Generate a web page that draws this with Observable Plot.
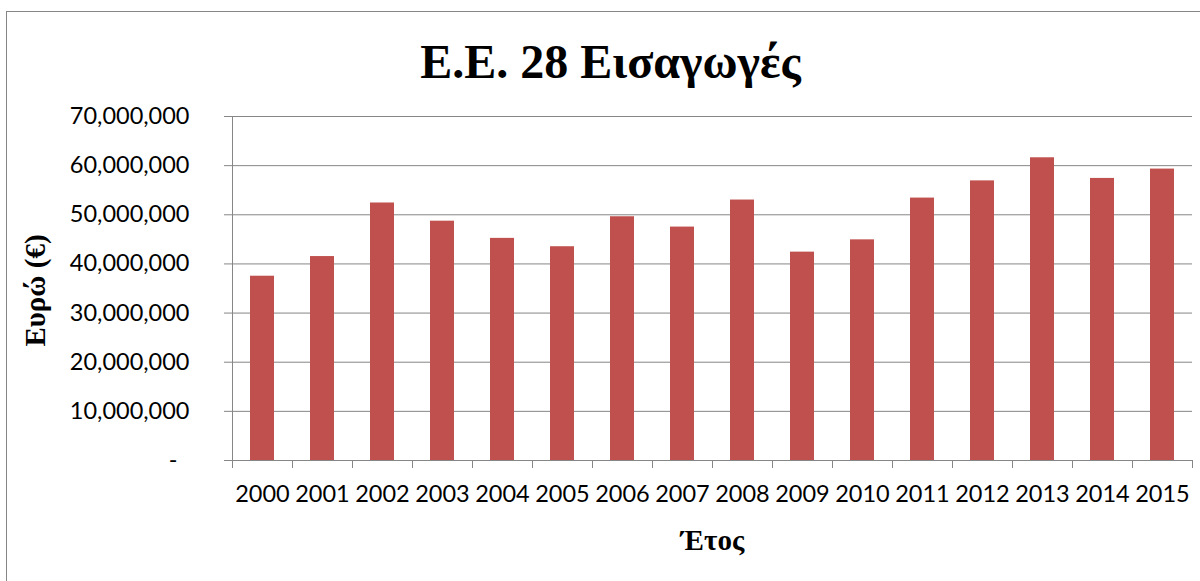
<!DOCTYPE html>
<html>
<head>
<meta charset="utf-8">
<script src="https://cdn.jsdelivr.net/npm/d3@7"></script>
<script src="https://cdn.jsdelivr.net/npm/@observablehq/plot@0.6"></script>
<style>
  html, body { margin: 0; padding: 0; background: #fff; }
  #wrap { position: relative; width: 1200px; height: 581px; overflow: hidden; background: #fff; }
  #frame { position: absolute; left: 6px; top: 11px; width: 1230px; height: 620px; border: 1.5px solid #868686; box-sizing: border-box; }
  #chart { position: absolute; left: 0; top: 0; }
</style>
</head>
<body>
<div id="wrap"><div id="frame"></div><div id="chart"></div></div>
<script>
const title = "E.E. 28 Εισαγωγές";
const yTitle = "Ευρώ (€)";
const xTitle = "Έτος";
const years = [2000, 2001, 2002, 2003, 2004, 2005, 2006, 2007, 2008, 2009, 2010, 2011, 2012, 2013, 2014, 2015];
const values = [37.5e6, 41.5e6, 52.4e6, 48.7e6, 45.2e6, 43.5e6, 49.6e6, 47.5e6, 53.0e6, 42.4e6, 44.9e6, 53.4e6, 56.9e6, 61.6e6, 57.4e6, 59.3e6];
const yTicks = [0, 10e6, 20e6, 30e6, 40e6, 50e6, 60e6, 70e6];

const data = years.map((year, i) => ({year, value: values[i]}));
const halfBar = 0.2;
const edges = years.map(y => y - 0.5).concat([years[years.length - 1] + 0.5]);
const grid = "#868686";
const serif = "'Liberation Serif', 'Times New Roman', serif";
const sans = "Lato, 'Open Sans', sans-serif";

const chart = Plot.plot({
  width: 1200,
  height: 581,
  marginLeft: 232,
  marginRight: 8,
  marginTop: 116,
  marginBottom: 121,
  style: {fontFamily: sans, fontSize: "23.5px", color: "#000", background: "transparent", overflow: "visible"},
  x: {type: "linear", domain: [edges[0], edges[edges.length - 1]], label: null},
  y: {domain: [0, 70e6], label: null},
  marks: [
    Plot.gridY(yTicks.slice(1), {stroke: grid, strokeOpacity: 1, strokeWidth: 1}),
    Plot.rectY(data, {x1: d => d.year - halfBar, x2: d => d.year + halfBar, y: "value", fill: "#C0504D"}),
    Plot.ruleY([0], {stroke: grid, strokeWidth: 1}),
    Plot.ruleX([edges[0]], {stroke: grid, strokeWidth: 1}),
    Plot.axisY(yTicks, {tickSize: 8, tickPadding: 35, stroke: grid, fill: "#000", label: null,
      tickFormat: d => d === 0 ? "" : d3.format(",")(d)}),
    Plot.axisY([0], {tickSize: 0, tickPadding: 55, fill: "#000", label: null, tickFormat: () => "-"}),
    Plot.axisX(edges, {tickSize: 8, stroke: grid, label: null, tickFormat: () => ""}),
    Plot.axisX(years, {tickSize: 0, tickPadding: 25, fill: "#000", label: null, tickFormat: d => String(d)}),
    Plot.text([title], {frameAnchor: "top", dx: -102, dy: -73, fontFamily: serif, fontWeight: "bold", fontSize: 48, fill: "#000"}),
    Plot.text([yTitle], {frameAnchor: "left", rotate: -90, textAnchor: "middle", dx: -197, dy: 2, fontFamily: serif, fontWeight: "bold", fontSize: 29, fill: "#000"}),
    Plot.text([xTitle], {frameAnchor: "bottom", dy: 89, fontFamily: serif, fontWeight: "bold", fontSize: 29, fill: "#000"})
  ]
});
document.getElementById("chart").appendChild(chart);
</script>
</body>
</html>
